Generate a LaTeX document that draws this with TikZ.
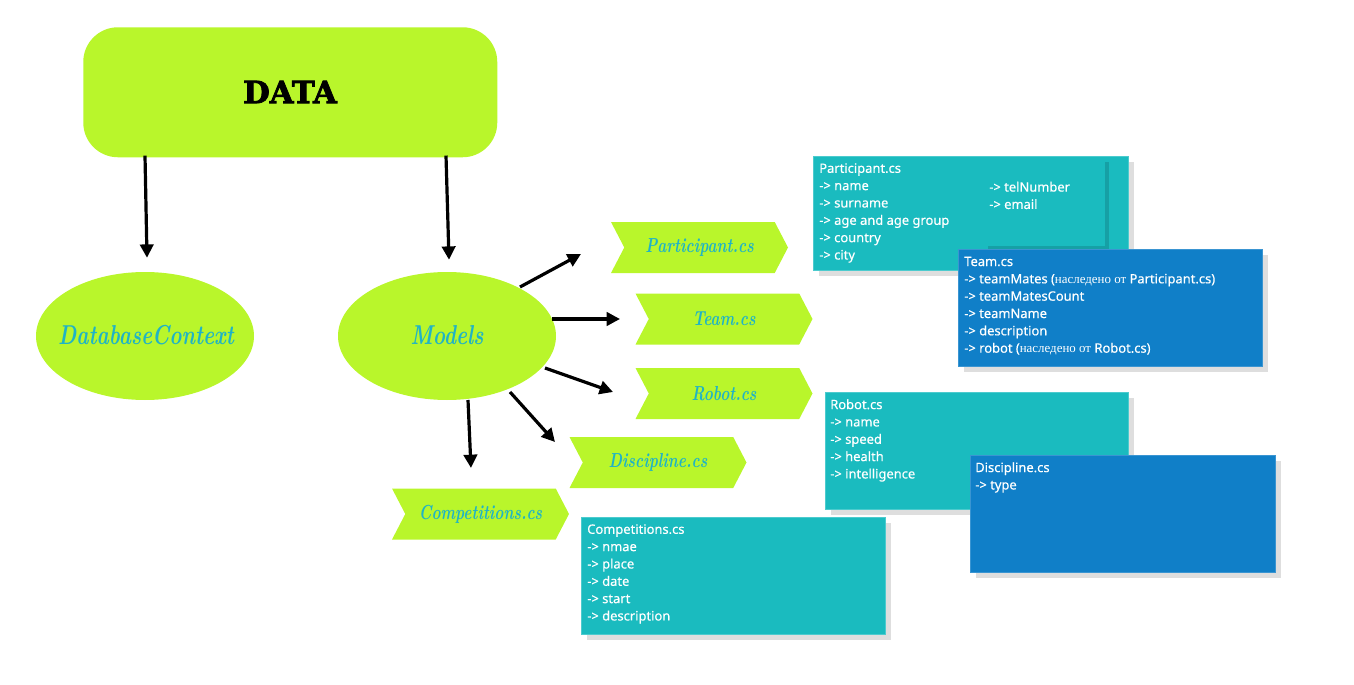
\documentclass[tikz,border=0pt]{standalone}
\usepackage{fontspec}
\newfontfamily\boxfont{Noto Sans}[FakeBold=0.4]
\newfontfamily\rufont{Liberation Serif}
\newfontfamily\datafont{DejaVu Serif}[FakeBold=2.5]
\newfontfamily\scriptf{Latin Modern Roman}[FakeStretch=0.76]
\usetikzlibrary{shapes.symbols,shapes.geometric,arrows.meta,shadows,calc}
\definecolor{limeC}{HTML}{B9F62B}
\definecolor{tealBox}{HTML}{1ABBBF}
\definecolor{tealEdge}{HTML}{4CCBCE}
\definecolor{blueBox}{HTML}{107FC8}
\definecolor{blueEdge}{HTML}{3A95D2}
\definecolor{chevText}{HTML}{1FB3C6}
\definecolor{shadowC}{HTML}{DEDEDE}
\definecolor{darkTeal}{HTML}{16A0A5}
\begin{document}
\begin{tikzpicture}[x=0.75pt,y=-0.75pt,
  arr/.style={line width=2.4pt,-{Triangle[length=10pt,width=10pt]}},
  chev/.style={signal, signal from=west, signal to=east, signal pointer angle=125,
    fill=limeC, minimum width=132.75pt, minimum height=38.25pt, inner sep=0pt,
    text=chevText, font=\scriptf\bfseries\itshape\fontsize{15.2}{16}\selectfont},
  blob/.style={ellipse, fill=limeC, minimum width=163.5pt, minimum height=96pt,
    inner sep=0pt},
  bloblbl/.style={text=chevText, inner sep=0pt, font=\scriptf\bfseries\itshape\fontsize{20.5}{21}\selectfont},
  infobox/.style={rectangle, anchor=north west, inner sep=0pt, line width=0.75pt,
    drop shadow={shadow xshift=3.75pt, shadow yshift=-3.75pt, fill=shadowC, opacity=1}},
  tealbox/.style={infobox, fill=tealBox, draw=tealEdge},
  bluebox/.style={infobox, fill=blueBox, draw=blueEdge},
  boxtext/.style={anchor=north west, inner sep=0pt, align=left, text=white,
    font=\boxfont\fontsize{9.7}{13}\selectfont}
]
\useasboundingbox (0,0) rectangle (1354,685);

% top box
\node[rectangle, rounded corners=26pt, fill=limeC, anchor=north west,
  minimum width=310.5pt, minimum height=97.5pt, inner sep=0pt] (data) at (83,27) {};
\node[font=\datafont\bfseries\fontsize{23}{24}\selectfont, text=black] (datalbl) at (290,92) {DATA};

% ellipses
\node[blob] (dbc) at (145,336) {};
\node[bloblbl] (dbclbl) at (146,335) {DatabaseContext};
\node[blob] (models) at (447,336) {};
\node[bloblbl] (modelslbl) at (447,335) {Models};

% chevrons
\node[chev] (part) at (699.5,247.5) {Participant.cs};
\node[chev] (team) at (724,319) {Team.cs};
\node[chev] (robot) at (724,393.5) {Robot.cs};
\node[chev] (disc) at (658,462.5) {Discipline.cs};
\node[chev] (comp) at (480.5,514) {Competitions.cs};

% arrows
\draw[arr] ($(data.south west)+(62,-2)$) -- ($(dbc.north)+(2,-14)$);
\draw[arr] ($(data.south west)+(363,-2)$) -- ($(models.north)+(2,-12)$);
\draw[arr] ($(models.center)+(73,-49)$) -- ($(part.center)+(-118.5,6.5)$);
\draw[arr] ($(models.center)+(105,-17)$) -- ($(team.center)+(-104,0)$);
\draw[arr] ($(models.center)+(98,32)$) -- ($(robot.center)+(-111,-1.5)$);
\draw[arr] ($(models.center)+(63,56)$) -- ($(disc.center)+(-103,-20.5)$);
\draw[arr] ($(models.center)+(21,64)$) -- ($(comp.center)+(-9.5,-46)$);

% info boxes
\node[tealbox, minimum width=236.25pt, minimum height=85.5pt] (pbox) at (813,156) {};
\draw[darkTeal, line width=2.6pt] ($(pbox.north west)+(175,91.5)$) -- ($(pbox.north west)+(294,91.5)$) -- ($(pbox.north west)+(294,6)$);
\node[boxtext] (ptext) at ($(pbox.north west)+(6,7)$) {Participant.cs\\-> name\\-> surname\\-> age and age group\\-> country\\-> city};
\node[boxtext] (ptext2) at ($(pbox.north west)+(176,25.5)$) {-> telNumber\\-> email};

\node[bluebox, minimum width=228pt, minimum height=87.75pt] (tbox) at (958,249) {};
\node[boxtext] (ttext) at ($(tbox.north west)+(6,7.5)$) {Team.cs\\-> teamMates ({\rufont наследено от} Participant.cs)\\-> teamMatesCount\\-> teamName\\-> description\\-> robot ({\rufont наследено от} Robot.cs)};

\node[tealbox, minimum width=227.25pt, minimum height=87.75pt] (rbox) at (825,392) {};
\node[boxtext] (rtext) at ($(rbox.north west)+(5,7)$) {Robot.cs\\-> name\\-> speed\\-> health\\-> intelligence};

\node[bluebox, minimum width=228.75pt, minimum height=87.75pt] (dbox) at (970,455) {};
\node[boxtext] (dtext) at ($(dbox.north west)+(5,7)$) {Discipline.cs\\-> type};

\node[tealbox, minimum width=228pt, minimum height=87.75pt] (cbox) at (581,517) {};
\node[boxtext] (ctext) at ($(cbox.north west)+(6,7)$) {Competitions.cs\\-> nmae\\-> place\\-> date\\-> start\\-> description};
\end{tikzpicture}
\end{document}
